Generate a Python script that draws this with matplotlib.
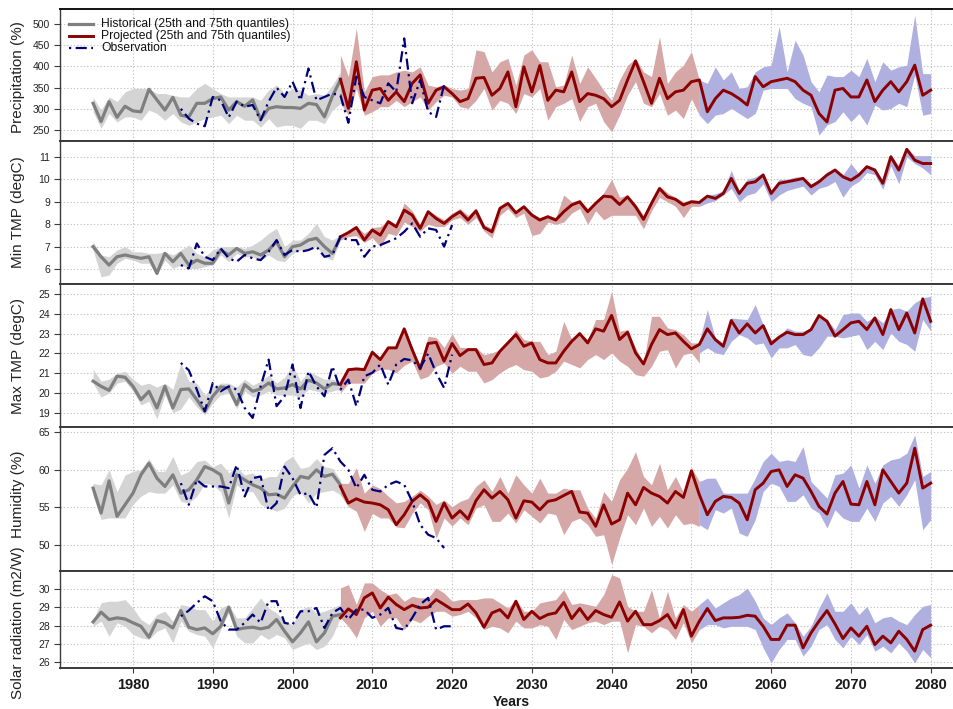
import numpy as np
import matplotlib
matplotlib.use("Agg")
import matplotlib.pyplot as plt

plt.rcParams['font.family'] = ['Liberation Sans', 'DejaVu Sans']

# ---------------------------------------------------------------- years
hist_years = np.arange(1975, 2007)      # historical runs
proj_years = np.arange(2006, 2081)      # projected runs
near_years = np.arange(2006, 2052)      # near-future quantile band
far_years = np.arange(2051, 2081)       # far-future quantile band

# ---------------------------------------------------------------- precipitation (%)
pr_hist = [313, 270, 317, 280, 306, 295, 293, 346, 321, 297, 327, 285, 281, 313, 313, 324,
           328, 297, 317, 306, 321, 275, 301, 305, 303, 303, 301, 313, 310, 281, 330, 368]
pr_hist_lo = [293, 254, 289, 269, 281, 281, 273, 297, 289, 273, 289, 269, 261, 269, 277, 281,
              285, 265, 285, 273, 273, 257, 277, 257, 261, 261, 254, 273, 273, 265, 297, 313]
pr_hist_hi = [327, 297, 328, 317, 340, 348, 348, 348, 336, 336, 332, 328, 328, 348, 360, 348,
              336, 328, 328, 328, 328, 320, 344, 356, 336, 348, 344, 332, 336, 332, 356, 387]
pr_proj = [370, 301, 411, 297, 344, 348, 320, 340, 317, 360, 380, 313, 344, 352, 336, 317, 324, 372,
           374, 332, 348, 387, 305, 399, 340, 402, 320, 344, 340, 387, 317, 336, 332, 324, 305, 320,
           368, 413, 364, 313, 372, 324, 340, 344, 364,
           368, 293, 324, 344, 336, 324, 309, 376, 352, 364, 368, 372, 364, 344, 332, 289, 269, 344,
           348, 328, 328, 368, 317, 344, 364, 340, 364, 403, 332, 344]
pr_near_lo = [313, 285, 348, 285, 293, 305, 305, 320, 305, 317, 328, 297, 317, 332, 328, 305, 301, 320,
              348, 297, 320, 313, 289, 336, 328, 348, 273, 305, 313, 324, 270, 305, 313, 270, 246, 285,
              332, 364, 313, 305, 336, 285, 297, 277, 324, 285]
pr_near_hi = [427, 376, 490, 340, 376, 380, 380, 387, 391, 387, 399, 356, 352, 356, 348, 344, 348, 439,
              435, 387, 411, 419, 356, 427, 439, 411, 411, 352, 356, 427, 360, 399, 372, 344, 320, 368,
              403, 419, 387, 376, 470, 360, 387, 403, 435, 368]
pr_far_lo = [285, 265, 285, 289, 301, 289, 277, 289, 344, 348, 348, 348, 324, 313, 305, 238, 262, 270,
             293, 270, 289, 262, 309, 297, 301, 313, 305, 380, 285, 289]
pr_far_hi = [368, 360, 399, 368, 387, 348, 352, 387, 399, 403, 494, 387, 462, 427, 364, 340, 380, 376,
             376, 391, 376, 419, 364, 411, 391, 399, 403, 521, 383, 383]
pr_obs_years = np.arange(1986, 2020)
pr_obs = [300, 277, 265, 259, 328, 320, 280, 317, 305, 309, 273, 317, 350, 328, 364, 320, 395, 320,
          328, 336, 332, 267, 376, 328, 320, 313, 360, 340, 466, 313, 368, 293, 281, 356]

# ---------------------------------------------------------------- minimum temperature (degC)
tn_hist = [7.01, 6.56, 6.19, 6.56, 6.64, 6.56, 6.49, 6.56, 5.82, 6.71, 6.34, 6.71, 6.19, 6.41, 6.27, 6.27,
           6.86, 6.64, 6.93, 6.71, 6.78, 6.64, 6.86, 7.23, 6.56, 7.01, 7.08, 7.30, 7.38, 7.01, 6.71, 7.42]
tn_hist_lo = [6.86, 5.67, 5.75, 6.27, 6.49, 6.41, 6.27, 6.27, 5.75, 6.41, 6.04, 6.19, 6.04, 6.04, 6.12, 6.19,
              6.64, 6.34, 6.71, 6.56, 6.56, 6.41, 6.64, 6.41, 6.34, 6.71, 6.86, 6.93, 7.01, 6.56, 6.41, 7.30]
tn_hist_hi = [7.23, 6.64, 6.56, 6.86, 7.01, 6.78, 6.78, 6.71, 6.71, 6.78, 6.64, 6.86, 7.08, 6.71, 6.56, 6.86,
              7.01, 7.01, 7.01, 6.93, 7.08, 7.30, 7.60, 7.82, 7.01, 7.30, 7.30, 7.60, 8.04, 7.45, 7.30, 7.52]
tn_proj = [7.45, 7.63, 7.86, 7.30, 7.75, 7.52, 8.12, 7.89, 8.63, 8.41, 7.82, 8.56, 8.26, 8.04, 8.34, 8.56,
           8.19, 8.60, 7.86, 7.67, 8.71, 8.93, 8.51, 8.78, 8.41, 8.19, 8.34, 8.19, 8.56, 8.86, 9.00, 8.56,
           8.93, 9.25, 9.22, 8.88, 9.22, 8.78, 8.22, 8.93, 9.59, 9.22, 9.11, 8.86, 9.00,
           8.97, 9.25, 9.15, 9.37, 10.04, 9.37, 9.82, 9.89, 10.19, 9.37, 9.82, 9.89, 9.96, 10.04, 9.67,
           9.89, 10.19, 10.41, 10.11, 9.96, 10.19, 10.56, 10.41, 9.82, 11.00, 10.41, 11.33, 10.85, 10.70, 10.70]
tn_near_lo = [7.30, 7.45, 7.50, 7.20, 7.40, 7.00, 7.60, 7.50, 8.10, 7.90, 7.70, 8.00, 7.90, 7.90, 8.20, 8.30,
              8.00, 8.30, 7.70, 7.40, 8.40, 8.70, 8.30, 8.50, 7.50, 7.60, 8.10, 8.00, 8.10, 8.50, 8.70, 8.00,
              8.60, 8.20, 8.40, 8.40, 8.40, 8.40, 7.80, 8.60, 9.20, 9.00, 8.80, 8.30, 8.80, 8.80]
tn_near_hi = [7.50, 7.75, 7.90, 7.60, 7.85, 7.90, 8.20, 8.00, 8.95, 8.60, 8.00, 8.60, 8.40, 8.20, 8.50, 8.70,
              8.40, 8.70, 8.00, 7.80, 8.80, 9.00, 8.60, 8.85, 8.50, 8.30, 8.40, 8.30, 9.30, 9.00, 9.10, 8.70,
              9.00, 9.40, 10.00, 9.20, 9.30, 8.90, 8.40, 9.10, 9.70, 9.40, 9.20, 9.00, 9.10, 9.05]
tn_far_lo = [8.80, 8.95, 9.05, 9.30, 9.60, 9.00, 9.30, 9.40, 9.80, 9.00, 9.30, 9.50, 9.60, 9.70, 9.30,
             9.60, 9.70, 9.90, 9.20, 9.70, 9.90, 10.30, 10.20, 9.55, 10.60, 9.80, 11.00, 10.70, 10.50, 10.20]
tn_far_hi = [9.05, 9.30, 9.35, 9.50, 10.40, 9.50, 10.00, 10.10, 10.30, 9.50, 10.00, 10.00, 10.10, 10.10, 9.80,
             10.00, 10.30, 10.50, 10.20, 10.70, 10.25, 10.60, 10.50, 9.90, 11.10, 10.60, 11.40, 11.05, 11.05, 11.05]
tn_obs_years = np.arange(1986, 2021)
tn_obs = [6.19, 6.04, 7.15, 6.56, 6.41, 6.93, 6.49, 6.34, 6.64, 6.49, 6.41, 6.78, 7.30, 6.64, 6.86, 6.78,
          6.86, 7.01, 6.56, 6.64, 7.45, 7.30, 7.30, 6.56, 7.01, 7.08, 7.23, 7.38, 7.67, 8.04, 7.45, 7.82,
          7.75, 7.01, 7.97]

# ---------------------------------------------------------------- maximum temperature (degC)
tx_hist = [20.60, 20.34, 20.14, 20.85, 20.80, 20.34, 19.67, 20.09, 19.25, 20.34, 19.25, 20.18, 20.21, 19.67,
           19.08, 19.84, 20.31, 20.26, 19.42, 20.43, 20.09, 20.21, 20.51, 20.21, 20.26, 20.43, 20.21, 20.65,
           20.51, 20.21, 20.48, 20.43]
tx_hist_lo = [20.5, 19.8, 20.0, 20.5, 20.6, 20.1, 19.4, 19.6, 18.7, 19.9, 19.0, 19.2, 19.8, 19.3, 18.9, 19.5,
              19.9, 20.0, 19.2, 20.1, 19.8, 19.9, 20.1, 19.9, 19.9, 19.9, 19.8, 20.2, 20.1, 20.0, 20.1, 20.2]
tx_hist_hi = [21.2, 20.6, 20.7, 21.0, 21.1, 20.7, 20.4, 20.5, 20.3, 20.5, 20.2, 21.5, 20.6, 20.5, 19.9, 20.3,
              20.5, 20.5, 20.3, 20.7, 20.4, 20.6, 20.9, 20.5, 20.8, 21.4, 20.6, 21.1, 20.9, 20.7, 20.7, 20.6]
tx_proj = [20.43, 21.18, 21.22, 21.18, 22.06, 21.69, 22.28, 22.28, 23.24, 22.19, 21.22, 22.50, 22.56, 21.61,
           22.50, 21.89, 22.19, 22.19, 21.44, 21.52, 22.11, 22.53, 22.95, 22.36, 22.53, 21.69, 21.52, 21.52,
           22.11, 22.61, 23.00, 22.53, 23.24, 23.12, 23.92, 22.70, 23.07, 22.03, 21.47, 22.45, 23.20, 22.95,
           23.03, 22.61, 22.23,
           22.45, 23.24, 22.70, 22.36, 23.66, 23.03, 23.49, 23.03, 23.40, 22.48, 22.82, 23.07, 22.95, 22.95,
           23.20, 23.91, 23.62, 22.87, 23.20, 23.54, 23.62, 23.20, 23.79, 22.95, 24.21, 23.20, 24.04, 23.03,
           24.75, 23.62]
tx_near_lo = [20.00, 20.50, 20.50, 20.50, 21.00, 21.20, 21.20, 21.02, 21.40, 21.60, 20.70, 20.85, 21.35, 21.52,
              21.00, 21.35, 21.10, 21.10, 20.51, 20.68, 21.02, 21.27, 21.44, 21.18, 21.10, 20.76, 20.85, 21.10,
              21.61, 21.44, 21.27, 21.69, 21.94, 21.69, 22.03, 21.61, 21.35, 20.93, 20.85, 21.35, 22.11, 22.19,
              21.27, 21.94, 22.03, 21.52]
tx_near_hi = [20.70, 21.20, 21.30, 21.30, 22.10, 21.80, 22.30, 22.30, 23.30, 22.30, 21.40, 22.87, 22.80, 22.30,
              23.00, 22.30, 22.30, 22.30, 21.94, 22.03, 22.19, 22.61, 23.20, 22.70, 22.61, 22.61, 21.94, 22.11,
              23.62, 22.70, 23.03, 22.70, 23.71, 23.71, 25.13, 23.12, 23.20, 22.28, 21.52, 23.87, 23.87, 23.29,
              23.20, 22.95, 22.53, 22.53]
tx_far_lo = [22.03, 22.28, 22.03, 21.94, 22.61, 22.95, 22.78, 22.45, 22.53, 21.77, 22.28, 22.28, 22.45, 21.94,
             21.86, 22.28, 22.87, 22.87, 22.78, 22.87, 22.95, 22.19, 22.61, 22.19, 23.03, 22.61, 22.45, 22.11,
             23.71, 23.12]
tx_far_hi = [22.61, 24.21, 22.78, 22.53, 23.79, 23.74, 23.71, 24.46, 23.45, 22.70, 22.87, 23.29, 23.12, 23.12,
             23.29, 23.96, 23.71, 23.20, 23.96, 24.04, 24.04, 23.62, 23.87, 23.54, 24.21, 24.29, 24.13, 24.55,
             24.80, 24.88]
tx_obs_years = np.arange(1986, 2021)
tx_obs = [21.52, 21.15, 20.18, 19.08, 20.51, 20.09, 20.34, 20.18, 19.25, 18.75, 20.34, 21.69, 19.34, 19.84,
          21.44, 19.25, 21.10, 20.34, 19.84, 21.35, 20.18, 20.68, 19.34, 20.85, 21.02, 21.44, 20.43, 21.44,
          21.72, 21.65, 21.27, 21.99, 21.02, 20.26, 21.94]

# ---------------------------------------------------------------- humidity (%)
rh_hist = [57.57, 54.25, 58.54, 53.81, 55.35, 56.90, 59.34, 60.88, 58.89, 57.79, 59.34, 56.90, 57.35, 58.67,
           60.44, 60.00, 59.34, 55.58, 59.34, 58.67, 58.01, 57.57, 56.68, 56.77, 56.24, 57.79, 59.12, 58.89,
           60.00, 59.12, 59.42, 58.00]
rh_hist_lo = [56.5, 53.4, 53.6, 53.6, 53.6, 55.4, 56.5, 57.1, 56.9, 56.9, 58.0, 55.8, 55.6, 56.5, 58.2, 58.0,
              57.1, 53.6, 58.0, 57.1, 57.1, 55.4, 54.9, 54.5, 54.9, 56.5, 57.1, 55.6, 56.9, 57.1, 57.3, 56.7]
rh_hist_hi = [58.2, 58.0, 60.0, 57.1, 59.3, 59.8, 60.0, 61.5, 59.8, 59.8, 61.8, 59.3, 59.8, 61.1, 61.3, 60.4,
              60.9, 59.6, 60.4, 59.3, 59.6, 58.7, 59.1, 59.1, 61.1, 61.8, 60.2, 60.4, 61.5, 60.4, 60.2, 58.7]
rh_proj = [57.79, 55.58, 56.15, 55.71, 55.58, 55.35, 54.69, 52.70, 54.03, 55.80, 56.68, 55.80, 53.14, 55.58,
           53.58, 54.56, 53.45, 55.90, 57.35, 56.24, 57.12, 56.02, 53.58, 55.88, 55.71, 54.69, 55.80, 56.02,
           56.59, 57.12, 54.38, 54.25, 52.48, 55.35, 52.79, 53.36, 56.90, 55.35, 57.65, 56.90, 56.46, 55.58,
           57.12, 56.33, 59.87,
           56.68, 54.03, 55.80, 56.46, 56.33, 55.58, 53.36, 57.35, 58.23, 59.78, 60.00, 57.79, 59.34, 58.89,
           57.12, 55.13, 54.12, 56.90, 58.45, 55.44, 55.35, 58.45, 55.35, 60.00, 58.45, 56.90, 58.23, 62.88,
           57.57, 58.23]
rh_near_lo = [56.70, 55.10, 54.50, 51.80, 54.20, 53.60, 53.60, 52.40, 52.30, 54.20, 55.60, 54.70, 50.90, 53.60,
              52.50, 53.60, 52.70, 54.90, 55.35, 53.14, 53.14, 54.25, 52.92, 54.69, 53.81, 52.92, 54.25, 54.03,
              51.37, 53.14, 53.58, 52.70, 51.15, 51.37, 47.39, 50.93, 54.03, 52.70, 54.91, 52.48, 53.81, 52.26,
              54.03, 52.70, 52.92, 52.48]
rh_near_hi = [58.20, 58.20, 60.30, 56.90, 58.00, 57.50, 56.50, 55.60, 55.80, 56.50, 57.30, 56.50, 55.40, 56.00,
              55.10, 55.80, 56.20, 57.80, 58.67, 57.12, 59.12, 56.90, 59.34, 58.01, 56.90, 58.89, 56.90, 56.90,
              57.57, 57.35, 57.35, 54.91, 53.58, 57.12, 55.80, 58.67, 60.22, 62.43, 59.12, 58.01, 60.88, 57.35,
              59.12, 57.00, 60.31, 58.45]
rh_far_lo = [52.70, 52.04, 54.69, 54.25, 54.91, 51.59, 51.15, 53.36, 57.12, 58.23, 57.79, 55.80, 55.80, 56.68,
             54.91, 54.25, 52.26, 54.69, 53.58, 53.14, 53.14, 54.91, 53.14, 55.58, 56.46, 55.13, 56.68, 58.67,
             52.04, 53.36]
rh_far_hi = [58.45, 58.89, 58.89, 56.90, 56.90, 56.90, 56.90, 58.89, 61.11, 62.21, 61.11, 61.33, 61.11, 63.10,
             58.45, 57.35, 56.24, 59.34, 59.56, 60.66, 57.57, 60.66, 58.23, 60.66, 61.33, 61.55, 62.21, 64.65,
             59.12, 59.78]
rh_obs_years = np.arange(1986, 2020)
rh_obs = [58.23, 55.35, 58.67, 57.79, 57.79, 57.79, 57.57, 60.66, 56.46, 58.89, 59.12, 54.56, 55.58, 60.44,
          58.89, 56.68, 56.90, 55.00, 61.99, 62.88, 61.11, 60.00, 57.57, 59.34, 57.35, 57.12, 58.01, 58.45,
          58.01, 55.80, 52.70, 51.37, 50.93, 49.60]

# ---------------------------------------------------------------- solar radiation (m2/W)
sr_hist = [28.20, 28.73, 28.33, 28.42, 28.36, 28.15, 27.96, 27.36, 28.27, 28.15, 27.87, 28.82, 27.91, 27.78,
           27.87, 27.55, 27.96, 29.00, 27.78, 27.87, 27.91, 27.82, 27.91, 28.33, 27.69, 27.11, 27.60, 28.20,
           27.11, 27.60, 28.51, 28.60]
sr_hist_lo = [27.96, 28.24, 27.42, 28.15, 27.96, 27.51, 27.33, 27.24, 27.69, 27.87, 27.05, 28.24, 27.69, 27.51,
              27.42, 26.78, 27.78, 28.69, 27.42, 27.05, 27.05, 27.51, 27.24, 27.51, 27.33, 26.69, 26.87, 27.05,
              26.69, 26.87, 27.42, 28.42]
sr_hist_hi = [28.33, 29.24, 29.33, 29.33, 29.42, 28.96, 28.33, 28.05, 28.60, 28.78, 28.24, 29.15, 29.05, 28.87,
              28.87, 28.24, 28.96, 29.15, 28.42, 28.42, 28.96, 29.51, 28.96, 28.69, 28.24, 28.05, 28.87, 29.05,
              28.69, 28.78, 28.96, 29.15]
sr_proj = [28.42, 28.91, 28.60, 29.51, 29.78, 28.96, 29.55, 29.15, 28.87, 29.11, 28.96, 29.00, 29.42, 29.15,
           28.87, 28.87, 29.18, 28.69, 27.91, 28.69, 28.87, 28.42, 29.33, 28.33, 28.78, 28.38, 28.60, 28.69,
           29.27, 28.38, 28.93, 28.33, 28.82, 28.60, 28.45, 29.29, 28.24, 28.78, 28.05, 28.05, 28.27, 28.60,
           27.87, 28.87, 27.42,
           28.24, 28.93, 28.27, 28.42, 28.42, 28.45, 28.56, 28.51, 27.96, 27.24, 27.24, 28.02, 28.02, 26.78,
           27.60, 28.24, 28.82, 28.09, 27.29, 27.87, 27.42, 27.96, 26.96, 27.42, 27.05, 27.69, 27.24, 26.60,
           27.78, 28.02]
sr_near_lo = [28.42, 27.96, 27.33, 28.42, 28.78, 27.96, 28.42, 28.42, 27.78, 28.33, 28.15, 28.51, 28.78, 28.78,
              28.51, 28.60, 28.78, 28.42, 27.78, 27.96, 27.87, 27.60, 28.24, 27.87, 27.87, 28.05, 27.96, 27.24,
              28.33, 27.78, 27.96, 28.15, 28.24, 28.05, 28.24, 28.24, 26.51, 28.05, 27.96, 27.60, 27.96, 27.78,
              27.24, 28.15, 27.05, 27.78]
sr_near_hi = [30.05, 30.24, 29.15, 30.33, 30.33, 29.96, 29.69, 29.78, 29.33, 29.60, 29.51, 29.51, 30.05, 29.78,
              29.33, 29.42, 29.42, 29.42, 29.51, 29.51, 29.24, 28.96, 29.42, 28.78, 28.78, 29.24, 29.33, 29.42,
              29.96, 29.15, 29.24, 29.15, 29.05, 29.69, 30.78, 30.60, 29.05, 28.78, 28.78, 29.96, 28.40, 29.87,
              28.42, 29.15, 28.78, 29.15]
sr_far_lo = [27.78, 28.05, 28.05, 27.87, 27.96, 27.96, 27.96, 27.78, 26.78, 25.96, 26.69, 27.24, 27.24, 26.33,
             26.87, 27.78, 28.05, 27.24, 26.78, 27.42, 26.96, 27.51, 26.60, 26.87, 26.51, 27.05, 26.60, 25.96,
             26.69, 26.24]
sr_far_hi = [29.15, 29.51, 28.96, 29.24, 29.51, 29.69, 30.05, 29.33, 28.42, 28.05, 28.42, 28.69, 28.15, 27.42,
             27.96, 28.96, 29.78, 28.78, 28.78, 29.24, 28.60, 29.05, 28.15, 28.42, 28.51, 28.24, 28.05, 28.60,
             29.05, 29.15]
sr_obs_years = np.arange(1986, 2021)
sr_obs = [28.51, 28.82, 29.24, 29.60, 29.33, 28.24, 27.78, 27.78, 28.15, 28.60, 28.15, 29.33, 29.33, 28.15,
          28.05, 28.78, 28.78, 28.96, 27.87, 28.69, 28.96, 28.33, 28.87, 28.87, 28.42, 28.60, 28.96, 27.87,
          27.78, 28.42, 29.15, 29.51, 27.78, 27.96, 27.96]

# ---------------------------------------------------------------- panel definitions
panels = [
    dict(label="Precipitation (%)", ylim=(224.1, 535.4), ticks=[250, 300, 350, 400, 450, 500],
         hist=(pr_hist, pr_hist_lo, pr_hist_hi), proj=pr_proj,
         near=(pr_near_lo, pr_near_hi), far=(pr_far_lo, pr_far_hi), obs=(pr_obs_years, pr_obs)),
    dict(label="Min TMP (degC)", ylim=(5.35, 11.70), ticks=[6, 7, 8, 9, 10, 11],
         hist=(tn_hist, tn_hist_lo, tn_hist_hi), proj=tn_proj,
         near=(tn_near_lo, tn_near_hi), far=(tn_far_lo, tn_far_hi), obs=(tn_obs_years, tn_obs)),
    dict(label="Max TMP (degC)", ylim=(18.29, 25.50), ticks=[19, 20, 21, 22, 23, 24, 25],
         hist=(tx_hist, tx_hist_lo, tx_hist_hi), proj=tx_proj,
         near=(tx_near_lo, tx_near_hi), far=(tx_far_lo, tx_far_hi), obs=(tx_obs_years, tx_obs)),
    dict(label="Humidity (%)", ylim=(46.54, 65.70), ticks=[50, 55, 60, 65],
         hist=(rh_hist, rh_hist_lo, rh_hist_hi), proj=rh_proj,
         near=(rh_near_lo, rh_near_hi), far=(rh_far_lo, rh_far_hi), obs=(rh_obs_years, rh_obs)),
    dict(label="Solar radiation (m2/W)", ylim=(25.68, 30.98), ticks=[26, 27, 28, 29, 30],
         hist=(sr_hist, sr_hist_lo, sr_hist_hi), proj=sr_proj,
         near=(sr_near_lo, sr_near_hi), far=(sr_far_lo, sr_far_hi), obs=(sr_obs_years, sr_obs)),
]

# panel frames in pixel rows (top, bottom) of a 954 x 709 canvas, and y-label centres
W, H = 954, 709
rows = [(9, 141), (141, 284), (284, 427), (427, 571), (571, 668)]
label_centres = [77, 212.5, 355.5, 494, 623]
x_left, x_right = 59.6, 964.2
xlim = (1970.8, 2084.2)

HIST_BAND = "#d4d4d4"
HIST_LINE = "#7f7f7f"
NEAR_BAND = "#d6a7a7"
FAR_BAND = "#afafe0"
PROJ_LINE = "#8b0000"
OBS_LINE = "#00007a"
OBS_DASH = (0, (1.0, 2.0, 5.0, 2.0))
SPINE = "#3a3a3a"
GRID = "#c4c4c4"

fig = plt.figure(figsize=(W / 100, H / 100), dpi=100)
axes = []
for cfg, (top, bot), yc_px in zip(panels, rows, label_centres):
    ax = fig.add_axes([x_left / W, 1 - bot / H, (x_right - x_left) / W, (bot - top) / H])
    axes.append(ax)
    ax.set_xlim(*xlim)
    ax.set_ylim(*cfg["ylim"])
    ax.set_axisbelow(True)

    h, hlo, hhi = cfg["hist"]
    nlo, nhi = cfg["near"]
    flo, fhi = cfg["far"]
    ax.fill_between(hist_years, hlo, hhi, color=HIST_BAND, lw=0, zorder=1)
    ax.fill_between(near_years, nlo, nhi, color=NEAR_BAND, lw=0, zorder=1)
    ax.fill_between(far_years, flo, fhi, color=FAR_BAND, lw=0, zorder=1)
    ax.plot(hist_years, h, color=HIST_LINE, lw=2.3, zorder=3, solid_joinstyle="round")
    ax.plot(proj_years, cfg["proj"], color=PROJ_LINE, lw=2.1, zorder=3, solid_joinstyle="round")
    oy, ov = cfg["obs"]
    ax.plot(oy, ov, color=OBS_LINE, lw=1.6, ls=OBS_DASH, zorder=4)

    ax.set_yticks(cfg["ticks"])
    ax.set_xticks(np.arange(1980, 2081, 10))
    ax.grid(True, color=GRID, ls=(0, (1.2, 1.8)), lw=0.8)
    ax.tick_params(axis="y", direction="out", length=4.5, width=0.8, color=SPINE,
                   labelsize=7.5, labelcolor="#222222", pad=2.5)
    ax.tick_params(axis="x", direction="out", length=3.5, width=0.8, color=SPINE, pad=4)

    for side in ("top", "bottom"):
        ax.spines[side].set_color(SPINE)
        ax.spines[side].set_linewidth(1.4)
    ax.spines["left"].set_color(SPINE)
    ax.spines["left"].set_linewidth(1.0)
    ax.spines["right"].set_visible(False)

    fig.text(18 / W, 1 - yc_px / H, cfg["label"], rotation=90, ha="center", va="center",
             fontsize=11, color="#222222")

for ax in axes[:-1]:
    ax.tick_params(axis="x", bottom=False, labelbottom=False)
axes[0].spines["top"].set_color("#111111")
for lab in axes[-1].get_xticklabels():
    lab.set_fontweight("bold")
    lab.set_fontsize(10.5)
    lab.set_color("#1a1a1a")

fig.text(511 / W, 1 - 702 / H, "Years", ha="center", va="center",
         fontsize=10, fontweight="bold", color="#1a1a1a")

# legend drawn in the top panel
ax0 = axes[0]
top0, bot0 = rows[0]
def to_ax(px, py):
    return (px - x_left) / (x_right - x_left), (bot0 - py) / (bot0 - top0)

legend_items = [
    ("Historical (25th and 75th quantiles)", dict(color=HIST_LINE, lw=2.3)),
    ("Projected (25th and 75th quantiles)", dict(color=PROJ_LINE, lw=2.1)),
    ("Observation", dict(color=OBS_LINE, lw=1.6, ls=OBS_DASH)),
]
for i, (text, style) in enumerate(legend_items):
    py = 24 + 12.2 * i
    x0, y0 = to_ax(69, py)
    x1, _ = to_ax(93, py)
    xt, _ = to_ax(101, py)
    ax0.plot([x0, x1], [y0, y0], transform=ax0.transAxes, clip_on=False, zorder=6, **style)
    ax0.text(xt, y0, text, transform=ax0.transAxes, fontsize=8.7, va="center", ha="left",
             color="#111111", zorder=6)

fig.savefig("out.png", dpi=100)
